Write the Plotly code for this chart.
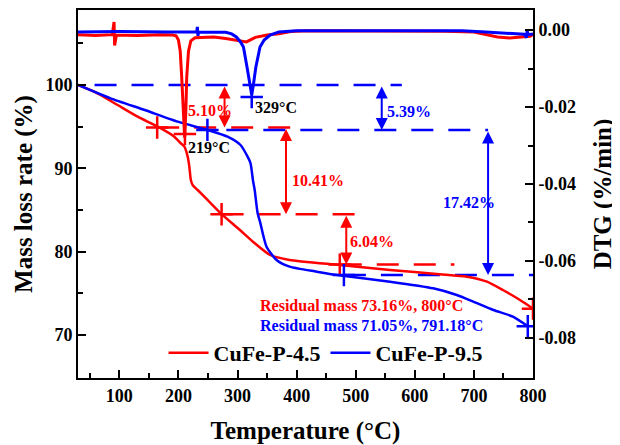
import plotly.graph_objects as go

# ---------------- data ----------------
# TG curves (temperature in °C, mass in %)
t_red = [30, 63, 97, 131, 165, 193, 204, 210, 215.6, 218.4, 221, 224, 232.5, 252, 271.6, 304, 326, 355, 388,
         473, 558, 642, 688, 722, 749, 778, 795, 800]
tg_red = [100, 99.0, 97.6, 96.2, 95.0, 93.8, 93.0, 92.6, 91.4, 90.2, 88.6, 88.0, 87.4, 86.0, 84.6, 82.6, 81.2,
          79.6, 79.0, 78.4, 77.8, 77.3, 77.0, 76.4, 75.4, 74.2, 73.4, 73.16]

t_blue = [30, 85, 143, 199, 249, 283, 305, 317, 322, 326, 329, 334, 338, 349, 366, 388, 434, 478, 558, 631,
          671, 699, 733, 766, 791.18]
tg_blue = [100, 98.4, 97.0, 95.6, 94.6, 93.8, 92.8, 91.4, 90.6, 88.6, 87.4, 84.6, 83.6, 80.6, 79.0, 78.2, 77.6,
           77.1, 76.4, 75.6, 74.8, 74.0, 73.0, 72.2, 71.05]

# DTG curves (%/min)
dtg_t_red = [30, 60, 88, 90, 91, 92, 93, 95, 130, 170, 190, 196, 200, 203, 205.5, 208, 210.5, 212.5, 214, 217,
             221, 228, 240, 260, 280, 300, 315, 330, 350, 370, 390, 420, 500, 600, 650, 700, 720, 740, 760, 780,
             795, 800]
dtg_red = [-0.0012, -0.0014, -0.0012, 0.0010, 0.0021, -0.0040, -0.0025, -0.0013, -0.0014, -0.0012, -0.0013,
           -0.0015, -0.0026, -0.0055, -0.0122, -0.0210, -0.0280, -0.0210, -0.0122, -0.0055, -0.0028, -0.0020,
           -0.0019, -0.0018, -0.0022, -0.0027, -0.0031, -0.0019, -0.0013, -0.0010, -0.0004, -0.0002, -0.0002,
           -0.0003, -0.0003, -0.0005, -0.0011, -0.0018, -0.0021, -0.0019, -0.0016, -0.0012]

dtg_t_blue = [30, 100, 180, 231, 232, 233, 234, 280, 290, 298, 305, 310, 316, 320, 324, 327, 331, 338, 345,
              355, 370, 400, 500, 600, 680, 720, 760, 785, 789, 790, 792, 800]
dtg_blue = [-0.0005, -0.0004, -0.0005, -0.0005, 0.0008, -0.0015, -0.0005, -0.0006, -0.0010, -0.0018,
            -0.0031, -0.0044, -0.0096, -0.0135, -0.0169, -0.0140, -0.0096, -0.0044, -0.0026, -0.0013,
            -0.0005, -0.0002, -0.0002, -0.0002, -0.0002, -0.0005, -0.0009, -0.0011, -0.0020, -0.0002,
            -0.0012, -0.0010]

# reference levels (dashed lines): level, start T, end T
red_lvl = [94.90, 84.49, 78.45]
red_lvl_from = [164, 273, 473]
red_lvl_to = [395, 504, 667]
blue_lvl = [100.0, 94.61, 77.19]
blue_lvl_from = [58, 281, 480]
blue_lvl_to = [578, 724, 800]

# mass-loss arrows
arrow_t = [278, 544, 382, 484, 724]
arrow_top = [100.0, 100.0, 94.90, 84.49, 94.61]
arrow_bot = [94.90, 94.61, 84.49, 78.45, 77.19]
arrow_col = ["red", "blue", "red", "red", "blue"]

# crosshair markers
red_cross_t = [164, 273, 473, 800]
red_cross_m = [94.90, 84.49, 78.45, 73.16]
blue_cross_t = [249, 480, 791.18]
blue_cross_m = [94.61, 77.19, 71.05]
peak_t = [211, 324]
peak_dtg = [-0.0270, -0.0174]

# text labels: text, T, value, axis, anchor, color
labels = [
    ("5.10%", 253, 96.9, "y", "center", "red"),
    ("5.39%", 550, 96.8, "y", "left", "blue"),
    ("10.41%", 388, 88.6, "y", "left", "red"),
    ("6.04%", 487, 81.2, "y", "left", "red"),
    ("17.42%", 692, 85.85, "y", "center", "blue"),
    ("219°C", 251, 92.55, "y", "center", "black"),
    ("329°C", 326, 97.35, "y", "left", "black"),
    ("Residual mass 73.16%, 800°C", 334, 73.6, "y", "left", "red"),
    ("Residual mass 71.05%, 791.18°C", 334, 71.2, "y", "left", "blue"),
]

x_range = [30, 800]
y_range = [64.84, 109.0]
y2_range = [-0.0904, 0.0052]
y2_ticks = [0.0, -0.02, -0.04, -0.06, -0.08]
y2_ticktext = ["0.00", "-0.02", "-0.04", "-0.06", "-0.08"]
y2_minor = [-0.01, -0.03, -0.05, -0.07]
y_minor = [75, 85, 95, 105]

FONT = "Liberation Serif"
DASH = "22px,15px"

fig = go.Figure()

# DTG curves (right axis)
fig.add_trace(go.Scatter(x=dtg_t_red, y=dtg_red, yaxis="y2", mode="lines",
                         line=dict(color="red", width=3), showlegend=False))
fig.add_trace(go.Scatter(x=dtg_t_blue, y=dtg_blue, yaxis="y2", mode="lines",
                         line=dict(color="blue", width=3), showlegend=False))
fig.add_trace(go.Scatter(x=peak_t, y=peak_dtg, yaxis="y2", mode="markers",
                         marker=dict(symbol="cross-thin", size=16, color=["red", "blue"],
                                     line=dict(width=2.5, color=["red", "blue"])),
                         showlegend=False))

# dashed reference lines
for lv, a, b in zip(red_lvl, red_lvl_from, red_lvl_to):
    fig.add_trace(go.Scatter(x=[a, b], y=[lv, lv], mode="lines",
                             line=dict(color="red", width=2.5, dash=DASH), showlegend=False))
for lv, a, b in zip(blue_lvl, blue_lvl_from, blue_lvl_to):
    fig.add_trace(go.Scatter(x=[a, b], y=[lv, lv], mode="lines",
                             line=dict(color="blue", width=2.5, dash=DASH), showlegend=False))

# TG curves
fig.add_trace(go.Scatter(x=t_red, y=tg_red, mode="lines", name="CuFe-P-4.5",
                         line=dict(color="red", width=2.5, shape="spline", smoothing=0.6)))
fig.add_trace(go.Scatter(x=t_blue, y=tg_blue, mode="lines", name="CuFe-P-9.5",
                         line=dict(color="blue", width=2.5, shape="spline", smoothing=0.6)))

# crosshairs on TG curves
fig.add_trace(go.Scatter(x=red_cross_t, y=red_cross_m, mode="markers", showlegend=False,
                         marker=dict(symbol="cross-thin", size=16, line=dict(width=2.5, color="red"))))
fig.add_trace(go.Scatter(x=blue_cross_t, y=blue_cross_m, mode="markers", showlegend=False,
                         marker=dict(symbol="cross-thin", size=16, line=dict(width=2.5, color="blue"))))

annotations = []
for t, top, bot, col in zip(arrow_t, arrow_top, arrow_bot, arrow_col):
    annotations.append(dict(x=t, y=bot, ax=t, ay=top, xref="x", yref="y", axref="x", ayref="y",
                            text="", showarrow=True, arrowhead=2, arrowside="end+start",
                            arrowsize=1.2, arrowwidth=2, arrowcolor=col, standoff=0, startstandoff=0))
for txt, t, v, ax_, anc, col in labels:
    annotations.append(dict(x=t, y=v, xref="x", yref=ax_, text=txt, showarrow=False, xanchor=anc,
                            yanchor="middle",
                            font=dict(family=FONT, size=16, color=col, weight="bold")))

axis_common = dict(showline=True, linecolor="black", linewidth=2, ticks="inside", ticklen=8,
                   tickwidth=2, tickcolor="black", showgrid=False, zeroline=False, automargin=False,
                   tickfont=dict(family=FONT, size=18, color="black", weight="bold"))

# the page body adds an 8 px offset, so the figure is 8 px smaller than the window
fig.update_layout(
    width=612, height=437,
    margin=dict(l=70, r=87, t=2, b=67),
    paper_bgcolor="white", plot_bgcolor="white",
    font=dict(family=FONT, color="black"),
    xaxis=dict(range=x_range, dtick=100, tick0=0, mirror=True,
               minor=dict(dtick=50, tick0=0, ticks="inside", ticklen=5, tickwidth=2, tickcolor="black"),
               title=dict(text="Temperature (°C)", standoff=17,
                          font=dict(family=FONT, size=25, color="black", weight="bold")),
               **axis_common),
    yaxis=dict(range=y_range, dtick=10, tick0=0,
               minor=dict(tickvals=y_minor, ticks="inside", ticklen=5, tickwidth=2, tickcolor="black"),
               title=dict(text="Mass loss rate (%)", standoff=6,
                          font=dict(family=FONT, size=25, color="black", weight="bold")),
               **axis_common),
    yaxis2=dict(range=y2_range, overlaying="y", side="right", tickvals=y2_ticks, ticktext=y2_ticktext,
                minor=dict(tickvals=y2_minor, ticks="inside", ticklen=5, tickwidth=2, tickcolor="black"),
                title=dict(text="DTG (%/min)", standoff=18,
                           font=dict(family=FONT, size=25, color="black", weight="bold")),
                **axis_common),
    legend=dict(orientation="h", x=0.188, xanchor="left", y=0.068, yanchor="middle",
                bgcolor="rgba(0,0,0,0)", itemwidth=40,
                font=dict(family=FONT, size=22, color="black", weight="bold")),
    annotations=annotations,
)

fig.write_html("out.html")
